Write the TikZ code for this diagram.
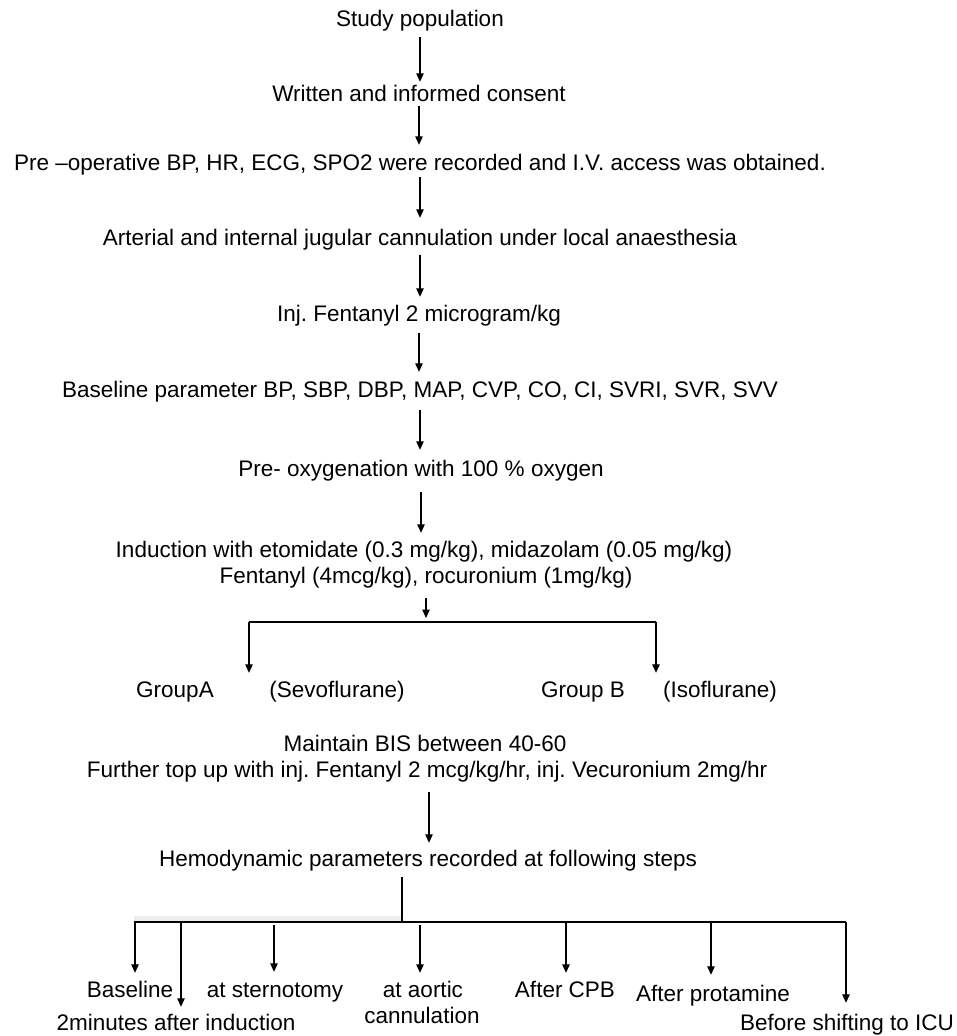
\documentclass[tikz,border=0pt]{standalone}
\usepackage{fontspec}
\setmainfont{Liberation Sans}
\usepackage{tikz}
\usetikzlibrary{arrows.meta,calc,positioning}
\frenchspacing

\tikzset{
  lbl/.style={font=\fontsize{22.5}{27}\selectfont, inner sep=0pt, text height=16pt, text depth=5pt, anchor=base},
  arr/.style={-{Triangle[length=8.5pt,width=7.5pt]}, line width=1.1pt},
  bar/.style={line width=1.8pt}
}

\begin{document}
\begin{tikzpicture}[x=1pt, y=-1pt]
    \useasboundingbox (0,0) rectangle (957,1036);

    % Main column
    \node[lbl] (study) at (420,26) {Study population};
    \node[lbl] (consent) at (419,101) {Written and informed consent};
    \node[lbl] (preop) at (420,170) {Pre –operative BP, HR, ECG, SPO2 were recorded and I.V. access was obtained.};
    \node[lbl] (cannul) at (420,245) {Arterial and internal jugular cannulation under local anaesthesia};
    \node[lbl] (fenta) at (419,321) {Inj. Fentanyl 2 microgram/kg};
    \node[lbl] (basepar) at (420,397) {Baseline parameter BP, SBP, DBP, MAP, CVP, CO, CI, SVRI, SVR, SVV};
    \node[lbl] (preox) at (421,476) {Pre- oxygenation with 100 \% oxygen};
    \node[lbl] (induct1) at (424,557) {Induction with etomidate (0.3 mg/kg), midazolam (0.05 mg/kg)};
    \node[lbl] (induct2) at (426,583) {Fentanyl (4mcg/kg), rocuronium (1mg/kg)};

    % Arrows between the steps
    \draw[arr, shorten <=6pt, shorten >=3pt] (study.south) -- (study.south |- consent.north);
    \draw[arr, shorten >=9pt] (consent.south) -- (consent.south |- preop.north);
    \draw[arr, shorten <=2pt, shorten >=11pt] (preop.south) -- (preop.south |- cannul.north);
    \draw[arr, shorten <=5pt, shorten >=8pt] (cannul.south) -- (cannul.south |- fenta.north);
    \draw[arr, shorten <=7pt, shorten >=9pt] (fenta.south) -- (fenta.south |- basepar.north);
    \draw[arr, shorten <=8pt, shorten >=10pt] (basepar.south) -- (basepar.south |- preox.north);
    \draw[arr, shorten <=11pt, shorten >=8pt] (preox.south) -- (preox.south |- induct1.north);

    % Split into the two groups
    \coordinate (barL) at (249,622);
    \coordinate (barR) at (656,622);
    \draw[arr, shorten <=10pt, shorten >=4pt] (induct2.south) -- (induct2.south |- barL);
    \draw[bar] (barL) -- (barR);

    \node[lbl] (groupA) at (175,697) {GroupA};
    \node[lbl] (sevo) at (337,697) {(Sevoflurane)};
    \node[lbl] (groupB) at (583,697) {Group B};
    \node[lbl] (iso) at (720,697) {(Isoflurane)};

    \draw[arr, shorten >=8pt] (barL) -- (barL |- groupA.north);
    \draw[arr, shorten >=8pt] (barR) -- (barR |- groupB.north);

    % Maintenance
    \node[lbl] (bis1) at (425,751) {Maintain BIS between 40-60};
    \node[lbl] (bis2) at (427,777) {Further top up with inj. Fentanyl 2 mcg/kg/hr, inj. Vecuronium 2mg/hr};
    \node[lbl] (hemo) at (428,866) {Hemodynamic parameters recorded at following steps};

    \draw[arr, shorten <=10pt, shorten >=7pt] ([xshift=2pt]bis2.south) -- ([xshift=2pt]bis2.south |- hemo.north);

    % Time points
    \coordinate (hbar) at (402,922);
    \coordinate (hL) at (134,922);
    \coordinate (hR) at (846,922);
    \fill[black!7] (134,916) rectangle (402,921);
    \draw[line width=1.2pt, shorten <=6pt] (hemo.south -| hbar) -- (hbar);
    \draw[bar] (hL) -- (hR);

    \node[lbl] (base0) at (130,997) {Baseline};
    \node[lbl] (min2) at (176,1030) {2minutes after induction};
    \node[lbl] (stern) at (275,997) {at sternotomy};
    \node[lbl] (aort1) at (423,997) {at aortic};
    \node[lbl] (aort2) at (422,1023) {cannulation};
    \node[lbl] (cpb) at (565,997) {After CPB};
    \node[lbl] (prot) at (713,1001) {After protamine};
    \node[lbl] (icu) at (847,1030) {Before shifting to ICU};

    \coordinate (t1) at (135,922);
    \coordinate (t2) at (181,922);
    \coordinate (t3) at (274,922);
    \coordinate (t4) at (420,922);
    \coordinate (t5) at (566,922);
    \coordinate (t6) at (711,922);
    \coordinate (t7) at (846,922);

    \draw[arr, shorten >=8pt] (t1) -- (t1 |- base0.north);
    \draw[arr, shorten >=7pt] (t2) -- (t2 |- min2.north);
    \draw[arr, shorten <=3pt, shorten >=9pt] (t3) -- (t3 |- stern.north);
    \draw[arr, shorten <=3pt, shorten >=8pt] (t4) -- (t4 |- aort1.north);
    \draw[arr, shorten >=8pt] (t5) -- (t5 |- cpb.north);
    \draw[arr, shorten >=10pt] (t6) -- (t6 |- prot.north);
    \draw[arr, shorten >=11pt] (t7) -- (t7 |- icu.north);

\end{tikzpicture}
\end{document}
